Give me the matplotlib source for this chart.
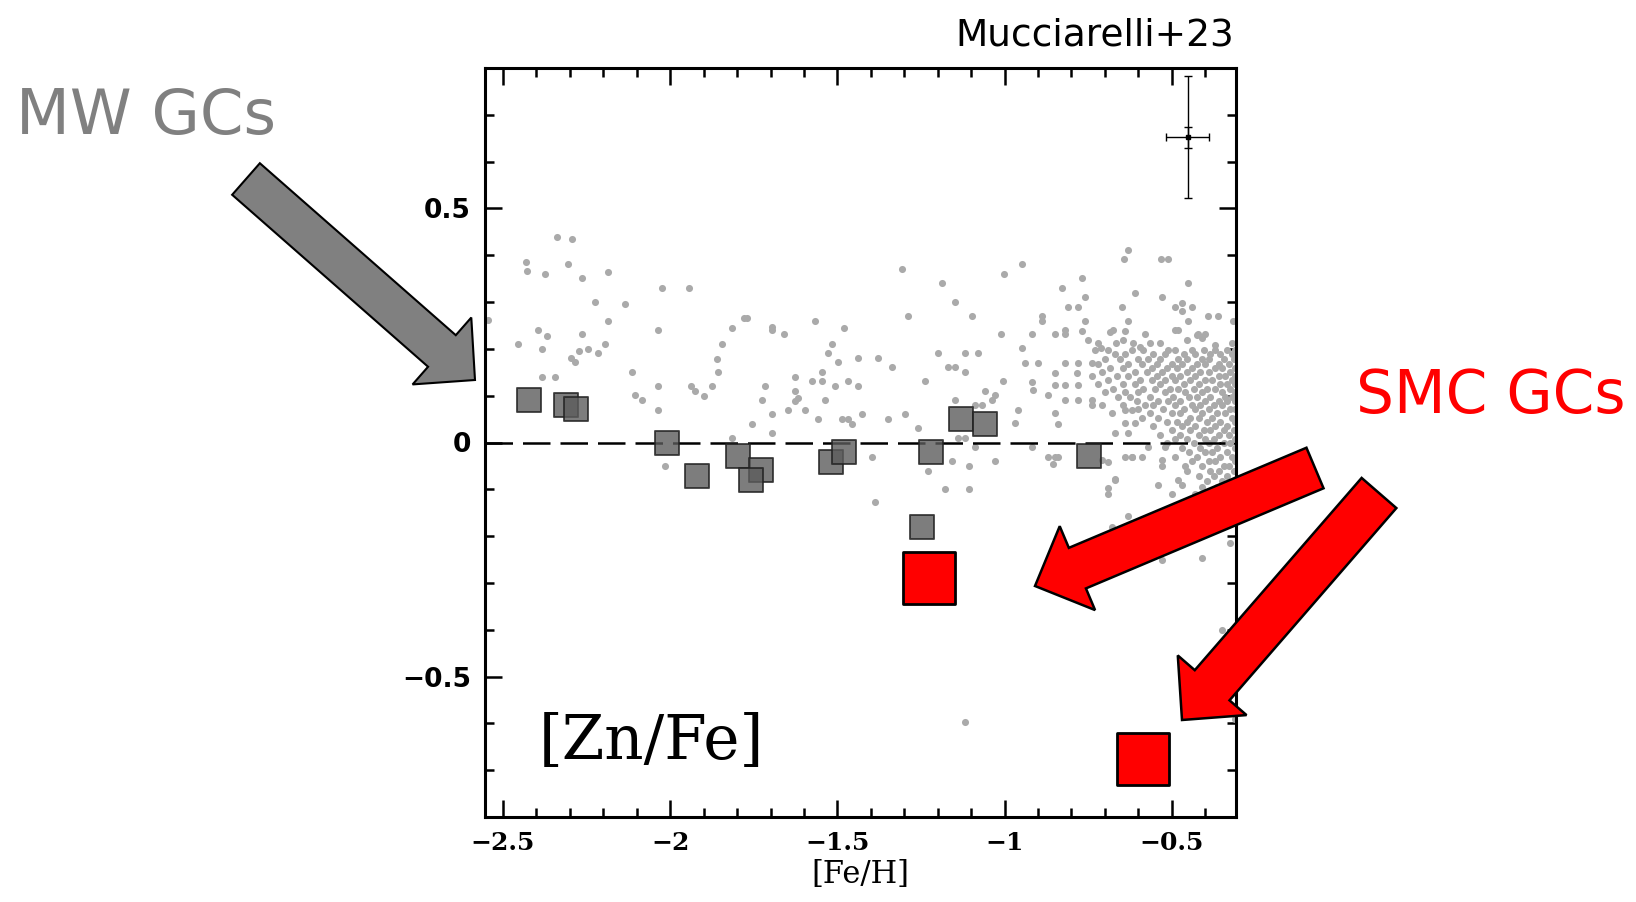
import matplotlib
matplotlib.use("Agg")
import matplotlib.pyplot as plt
from matplotlib.patches import FancyArrow

# MW globular clusters (grey squares)
mw_feh = [-2.422, -2.311, -2.282, -2.009, -1.919, -1.798, -1.729, -1.758, -1.519, -1.479,
          -1.22, -1.247, -1.130, -1.059, -0.749]
mw_znfe = [0.091, 0.080, 0.071, 0.0, -0.072, -0.029, -0.059, -0.080, -0.041, -0.020,
           -0.020, -0.181, 0.051, 0.039, -0.029]

# SMC globular clusters (red squares)
smc_feh = [-1.227, -0.585]
smc_znfe = [-0.290, -0.676]

# field stars, sparse part
field_xy = [
    (-2.339, 0.438), (-2.295, 0.434), (-2.431, 0.386), (-2.429, 0.367), (-2.305, 0.381),
    (-2.374, 0.360), (-2.265, 0.351), (-2.185, 0.365), (-2.225, 0.300), (-2.135, 0.295),
    (-2.025, 0.329), (-1.944, 0.329), (-2.546, 0.261), (-2.394, 0.240), (-2.369, 0.228),
    (-2.454, 0.210), (-2.384, 0.200), (-2.265, 0.231), (-2.185, 0.260), (-2.195, 0.211),
    (-2.245, 0.200), (-2.273, 0.196), (-2.215, 0.191), (-2.297, 0.181), (-2.285, 0.171),
    (-2.037, 0.240), (-1.816, 0.245), (-1.778, 0.267), (-1.846, 0.210), (-1.861, 0.178),
    (-1.856, 0.150), (-2.115, 0.150), (-2.384, 0.140), (-2.344, 0.140), (-2.037, 0.120),
    (-2.105, 0.101), (-2.085, 0.090), (-2.037, 0.070), (-1.938, 0.120), (-1.926, 0.111),
    (-1.898, 0.100), (-1.876, 0.120), (-1.816, 0.010), (-2.016, -0.050),
    (-1.308, 0.371), (-1.188, 0.340), (-1.148, 0.300), (-1.290, 0.271), (-1.098, 0.271),
    (-1.001, 0.360), (-1.011, 0.231), (-1.771, 0.267), (-1.697, 0.247), (-1.697, 0.240),
    (-1.660, 0.231), (-1.567, 0.260), (-1.481, 0.244), (-1.517, 0.210), (-1.527, 0.191),
    (-1.497, 0.171), (-1.437, 0.181), (-1.378, 0.181), (-1.338, 0.161), (-1.198, 0.191),
    (-1.118, 0.191), (-1.079, 0.191), (-1.168, 0.161), (-1.148, 0.161), (-1.118, 0.151),
    (-1.547, 0.151), (-1.627, 0.140), (-1.717, 0.120), (-1.577, 0.131), (-1.547, 0.131),
    (-1.467, 0.131), (-1.437, 0.120), (-1.507, 0.120), (-1.238, 0.131), (-1.004, 0.131),
    (-1.726, 0.091), (-1.627, 0.110), (-1.617, 0.096), (-1.627, 0.088), (-1.537, 0.091),
    (-1.647, 0.070), (-1.597, 0.070), (-1.697, 0.060), (-1.756, 0.040), (-1.557, 0.050),
    (-1.487, 0.050), (-1.467, 0.050), (-1.457, 0.039), (-1.427, 0.060), (-1.348, 0.050),
    (-1.298, 0.060), (-1.258, 0.030), (-1.059, 0.110), (-1.029, 0.101), (-1.039, 0.091),
    (-1.148, 0.091), (-1.089, 0.081), (-1.069, 0.081), (-1.697, 0.020), (-1.138, 0.010),
    (-1.118, 0.010), (-1.089, -0.010), (-1.397, -0.030), (-1.158, -0.040), (-1.108, -0.050),
    (-1.029, -0.040), (-1.228, -0.060), (-1.178, -0.100), (-1.108, -0.100), (-1.388, -0.128),
    (-1.119, -0.596),
    (-0.630, 0.411), (-0.642, 0.391), (-0.532, 0.391), (-0.510, 0.391), (-0.949, 0.381),
    (-0.769, 0.351), (-0.829, 0.331), (-0.451, 0.340), (-0.610, 0.320), (-0.530, 0.310),
    (-0.760, 0.310), (-0.810, 0.290), (-0.780, 0.290), (-0.650, 0.290), (-0.490, 0.290),
    (-0.470, 0.299), (-0.470, 0.280), (-0.440, 0.290), (-0.451, 0.260), (-0.391, 0.270),
    (-0.361, 0.270), (-0.316, 0.260), (-0.889, 0.270), (-0.889, 0.260), (-0.760, 0.260),
    (-0.630, 0.260), (-0.919, 0.231), (-0.849, 0.231), (-0.819, 0.240), (-0.819, 0.231),
    (-0.769, 0.239), (-0.640, 0.239), (-0.580, 0.231), (-0.490, 0.240), (-0.480, 0.240),
    (-0.421, 0.231), (-0.401, 0.231), (-0.949, 0.201),
    (-0.750, 0.219), (-0.721, 0.212), (-0.711, 0.201), (-0.686, 0.236), (-0.676, 0.240),
    (-0.666, 0.212), (-0.646, 0.219), (-0.616, 0.212), (-0.596, 0.205), (-0.566, 0.212),
    (-0.536, 0.212), (-0.456, 0.219), (-0.426, 0.230), (-0.411, 0.223), (-0.371, 0.209),
    (-0.321, 0.212), (-0.839, 0.039),
    (-0.919, 0.130), (-0.914, 0.112), (-0.849, 0.148), (-0.869, 0.101), (-0.849, 0.123),
    (-0.819, 0.123), (-0.780, 0.123), (-0.819, 0.091), (-0.780, 0.091), (-0.740, 0.091),
    (-0.740, 0.081), (-0.710, 0.081), (-0.959, 0.069), (-0.969, 0.041), (-0.849, 0.062),
    (-0.680, 0.062), (-0.640, 0.069), (-0.620, 0.069), (-0.640, 0.041), (-0.610, 0.041),
    (-0.670, 0.021), (-0.630, 0.021), (-0.740, 0.169), (-0.780, 0.169), (-0.819, 0.169),
    (-0.939, 0.169), (-0.899, 0.169), (-0.784, 0.148), (-0.740, 0.141), (-0.919, -0.010),
    (-0.869, -0.030), (-0.849, -0.030), (-0.710, -0.037), (-0.640, -0.030), (-0.620, -0.030),
    (-0.590, -0.030), (-0.670, -0.077), (-0.530, -0.037), (-0.530, -0.051), (-0.461, -0.051),
    (-0.570, -0.010), (-0.520, -0.010), (-0.854, -0.045), (-0.839, -0.031), (-0.692, -0.041),
    (-0.618, -0.031),
    (-0.670, -0.080), (-0.690, -0.098), (-0.690, -0.109), (-0.540, -0.091), (-0.500, -0.109),
    (-0.480, -0.080), (-0.470, -0.091), (-0.431, -0.109), (-0.680, -0.180), (-0.630, -0.158),
    (-0.351, -0.401), (-0.529, -0.251), (-0.312, -0.590), (-0.325, -0.214), (-0.366, -0.180),
    (-0.410, -0.247),
]

# field stars, dense clump at high metallicity ([Zn/Fe] of the row, [Fe/H] values in it)
clump_rows = [
    (0.198, [-0.73, -0.69, -0.62, -0.585, -0.51, -0.49, -0.44, -0.405, -0.37, -0.335, -0.31]),
    (0.188, [-0.67, -0.64, -0.555, -0.52, -0.465, -0.43, -0.385, -0.355, -0.32]),
    (0.179, [-0.70, -0.655, -0.60, -0.57, -0.535, -0.48, -0.455, -0.41, -0.39, -0.345, -0.315]),
    (0.168, [-0.72, -0.63, -0.59, -0.545, -0.50, -0.47, -0.425, -0.40, -0.36, -0.33]),
    (0.160, [-0.685, -0.645, -0.56, -0.515, -0.485, -0.44, -0.37, -0.35, -0.31]),
    (0.151, [-0.71, -0.61, -0.575, -0.53, -0.455, -0.415, -0.39, -0.325]),
    (0.142, [-0.665, -0.63, -0.545, -0.50, -0.475, -0.43, -0.36, -0.34, -0.31]),
    (0.133, [-0.69, -0.595, -0.56, -0.52, -0.49, -0.445, -0.40, -0.38, -0.32]),
    (0.124, [-0.72, -0.645, -0.61, -0.535, -0.465, -0.42, -0.355, -0.335, -0.31]),
    (0.115, [-0.675, -0.585, -0.55, -0.505, -0.48, -0.435, -0.395, -0.37, -0.325]),
    (0.107, [-0.70, -0.64, -0.60, -0.52, -0.46, -0.41, -0.35, -0.31]),
    (0.098, [-0.66, -0.625, -0.565, -0.495, -0.45, -0.425, -0.385, -0.34, -0.32]),
    (0.089, [-0.605, -0.54, -0.51, -0.475, -0.40, -0.36, -0.335, -0.31]),
    (0.080, [-0.645, -0.58, -0.555, -0.49, -0.44, -0.415, -0.375, -0.35]),
    (0.071, [-0.60, -0.525, -0.465, -0.43, -0.39, -0.325, -0.31]),
    (0.062, [-0.565, -0.50, -0.475, -0.41, -0.365, -0.34]),
    (0.053, [-0.59, -0.54, -0.445, -0.42, -0.38, -0.32]),
    (0.044, [-0.515, -0.485, -0.455, -0.395, -0.355, -0.31]),
    (0.035, [-0.555, -0.47, -0.43, -0.37, -0.335]),
    (0.026, [-0.50, -0.445, -0.405, -0.385, -0.345, -0.315]),
    (0.017, [-0.535, -0.475, -0.42, -0.36, -0.33]),
    (0.008, [-0.49, -0.455, -0.40, -0.375, -0.31]),
    (-0.002, [-0.515, -0.435, -0.39, -0.345, -0.325]),
    (-0.011, [-0.47, -0.415, -0.365, -0.31]),
    (-0.020, [-0.45, -0.40, -0.38, -0.335]),
    (-0.030, [-0.49, -0.425, -0.355, -0.32]),
    (-0.040, [-0.44, -0.39, -0.37, -0.31]),
    (-0.050, [-0.41, -0.345, -0.33]),
    (-0.060, [-0.455, -0.385, -0.36, -0.315]),
    (-0.071, [-0.42, -0.375, -0.335]),
    (-0.082, [-0.395, -0.35, -0.31]),
    (-0.094, [-0.41, -0.365, -0.325]),
    (-0.106, [-0.38, -0.34, -0.31]),
    (-0.120, [-0.395, -0.35, -0.32]),
    (-0.134, [-0.37, -0.33]),
    (-0.150, [-0.385, -0.345, -0.31]),
    (-0.168, [-0.36, -0.32]),
]

# typical error bars (top right corner)
err_feh, err_znfe = -0.453, 0.652
err_big_x, err_big_y = 0.065, 0.13
err_small_y = 0.023

xtick_vals = [-2.5, -2, -1.5, -1, -0.5]
xtick_labels = ["\u22122.5", "\u22122", "\u22121.5", "\u22121", "\u22120.5"]
ytick_vals = [0.5, 0, -0.5]
ytick_labels = ["0.5", "0", "\u22120.5"]

W, H = 1636, 902
fig = plt.figure(figsize=(W / 100, H / 100), dpi=100)
ax = fig.add_axes([485 / W, 1 - 817 / H, (1236 - 485) / W, (817 - 68) / H])

fx = [p[0] for p in field_xy]
fy = [p[1] for p in field_xy]
for yy, xs in clump_rows:
    fx += xs
    fy += [yy] * len(xs)
ax.scatter(fx, fy, s=26, color="#aaaaaa", linewidths=0, zorder=2)

ax.axhline(0, color="black", lw=1.8, ls=(0, (11, 4)), zorder=3)

ax.scatter(mw_feh, mw_znfe, marker="s", s=310, facecolor="#5c5c5c", alpha=0.8,
           edgecolor="#222222", linewidths=1.4, zorder=4)
ax.scatter(smc_feh, smc_znfe, marker="s", s=1450, facecolor="#ff0000",
           edgecolor="black", linewidths=2, zorder=5)

ax.errorbar(err_feh, err_znfe, xerr=err_big_x, yerr=err_big_y, fmt="s", ms=3,
            color="black", lw=1, capsize=3, zorder=4)
ax.errorbar(err_feh, err_znfe, yerr=err_small_y, fmt="none", ecolor="black",
            lw=1, capsize=3, zorder=4)

ax.set_xlim(-2.554, -0.308)
ax.set_ylim(-0.80, 0.80)
ax.set_xticks(xtick_vals)
ax.set_xticklabels(xtick_labels, family="DejaVu Serif", fontweight="bold", fontsize=18)
ax.set_yticks(ytick_vals)
ax.set_yticklabels(ytick_labels, family="DejaVu Sans", fontweight="bold", fontsize=19)
ax.xaxis.set_minor_locator(plt.MultipleLocator(0.1))
ax.yaxis.set_minor_locator(plt.MultipleLocator(0.1))
ax.tick_params(which="both", direction="in", top=True, right=True, width=1.8)
ax.tick_params(which="major", length=12, pad=10)
ax.tick_params(which="minor", length=6.5)
for sp in ax.spines.values():
    sp.set_linewidth(2.2)

ax.set_xlabel("[Fe/H]", family="DejaVu Serif", fontsize=22, labelpad=3)
ax.text(0.222, 0.10, "[Zn/Fe]", transform=ax.transAxes, family="DejaVu Serif",
        fontsize=44, ha="center", va="center")

# annotation layer in pixel units
ov = fig.add_axes([0, 0, 1, 1], zorder=10)
ov.set_xlim(0, W)
ov.set_ylim(H, 0)
ov.axis("off")
ov.patch.set_alpha(0)

ov.add_patch(FancyArrow(246, 179, 229, 201, width=42, head_width=89, head_length=44,
                        length_includes_head=True, facecolor="#808080",
                        edgecolor="black", lw=1.5))
ov.add_patch(FancyArrow(1315, 468, -280, 118, width=44, head_width=91, head_length=46,
                        length_includes_head=True, facecolor="#ff0000",
                        edgecolor="black", lw=1.8))
ov.add_patch(FancyArrow(1379, 493, -197, 227, width=46, head_width=91, head_length=46,
                        length_includes_head=True, facecolor="#ff0000",
                        edgecolor="black", lw=1.8))

fig.text(16 / W, 1 - 134 / H, "MW GCs", color="#808080", fontsize=45,
         ha="left", va="baseline")
fig.text(1626 / W, 1 - 413 / H, "SMC GCs", color="#ff0000", fontsize=43,
         ha="right", va="baseline")
fig.text(1234 / W, 1 - 46 / H, "Mucciarelli+23", color="black", fontsize=27,
         ha="right", va="baseline")

fig.savefig("out.png", dpi=100)
